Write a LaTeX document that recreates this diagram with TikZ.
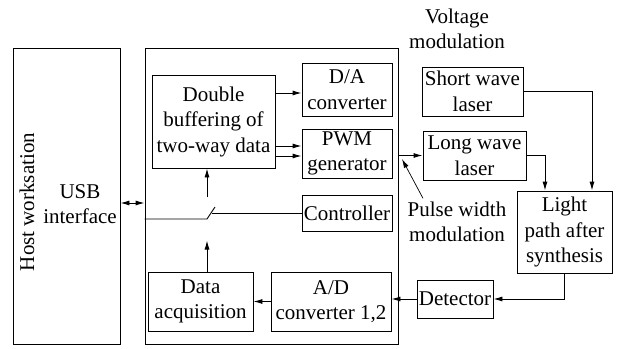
\documentclass[tikz,border=0pt]{standalone}
\usepackage{fontspec}
\setmainfont{Liberation Serif}
\usetikzlibrary{arrows.meta}

\tikzset{
  blk/.style={draw, line width=0.9pt, align=center, inner sep=1pt,
    font=\fontsize{21}{25.5}\selectfont},
  lbl/.style={align=center, font=\fontsize{21}{25.5}\selectfont},
  conn/.style={line width=0.9pt, -{Latex[length=9pt,width=5pt]}}
}

\begin{document}
\begin{tikzpicture}[x=1pt, y=-1pt]
  \useasboundingbox (0,0) rectangle (623,348);
  \node[blk, minimum width=107pt, minimum height=296pt] (host) at (66.5,196) {};
  \node[lbl, rotate=90] (hosttxt) at (27,202) {Host worksation};
  \node[lbl] (usb) at (80,204) {USB\\interface};
  \node[blk, minimum width=253pt, minimum height=296pt] (board) at (271.5,196) {};
  \node[blk, minimum width=123pt, minimum height=93pt] (buf) at (213.5,121.5) {Double\\buffering of\\two-way data};
  \node[blk, minimum width=90pt, minimum height=53pt] (da) at (347,89.5) {D/A\\converter};
  \node[blk, minimum width=90pt, minimum height=49pt] (pwm) at (347,153.5) {PWM\\generator};
  \node[blk, minimum width=90pt, minimum height=36pt] (ctrl) at (347,213) {Controller};
  \node[blk, minimum width=120pt, minimum height=59pt] (ad) at (331,301.5) {A/D\\converter 1,2};
  \node[blk, minimum width=105pt, minimum height=59pt] (daq) at (200.5,301.5) {Data\\acquisition};
  \node[blk, minimum width=101pt, minimum height=49pt] (swl) at (472.5,91.5) {Short wave\\laser};
  \node[blk, minimum width=103pt, minimum height=49pt] (lwl) at (474.5,155.5) {Long wave\\laser};
  \node[blk, minimum width=95pt, minimum height=82pt] (light) at (564.5,232) {Light\\path after\\synthesis};
  \node[blk, minimum width=76pt, minimum height=38pt] (det) at (455,299) {Detector};
  \node[lbl] (volt) at (457,29) {Voltage\\modulation};
  \node[lbl] (pulse) at (457,222) {Pulse width\\modulation};
  \coordinate (pwmtip) at (402,159);

  \draw[conn, {Latex[length=9pt,width=5pt]}-{Latex[length=9pt,width=5pt]}] (host.east |- 0,203) -- (board.west |- 0,203);
  \draw[conn] (buf.east |- 0,93) -- (da.west |- 0,93);
  \draw[conn] (buf.east |- 0,146) -- (pwm.west |- 0,146);
  \draw[conn] (buf.east |- 0,156) -- (pwm.west |- 0,156);
  \draw[conn] (board.east |- lwl.west) -- (lwl.west);
  \draw[conn, line width=0.7pt] ([xshift=-34pt]pulse.north) -- (pwmtip);
  \draw[conn] (swl.east) -| ([xshift=27.5pt]light.north);
  \draw[conn] (lwl.east) -| ([xshift=-19.5pt]light.north);
  \draw[conn] (light.south) |- (det.east);
  \draw[conn] (det.west) -- (ad.east |- det.west);
  \draw[conn] (ad.west) -- (daq.east);
  \draw[conn] ([xshift=6.5pt]daq.north) -- ++(0,-31);
  \draw[conn] ([xshift=-6.5pt]buf.south) ++(0,29) -- ([xshift=-6.5pt]buf.south);
  % switch between the bus and the controller
  \draw[line width=0.9pt] (board.west |- 0,219) -- (207,219) -- (215,207);
  \draw[line width=0.9pt] (212,213) -- (ctrl.west);
\end{tikzpicture}
\end{document}
